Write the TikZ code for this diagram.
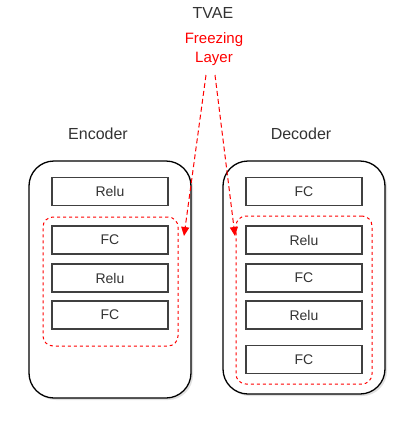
\documentclass[tikz,border=0pt]{standalone}
\usepackage{fontspec}
\setmainfont{Liberation Sans}
\usepackage{xcolor}
\usetikzlibrary{positioning,arrows.meta,shadows}
\definecolor{frzred}{HTML}{FF0000}
\definecolor{txtgray}{HTML}{333333}
\tikzset{
  layer/.style={draw=black!75, line width=1.6pt, minimum width=116pt, minimum height=28pt, inner sep=0pt, font=\fontsize{14}{16}\selectfont, text=txtgray},
  block/.style={draw=black, line width=1.3pt, rounded corners=25pt, minimum width=162pt, fill=white, inner sep=0pt,
    drop shadow={shadow xshift=2pt, shadow yshift=-2pt, opacity=0.2, fill=black!60}},
  frzbox/.style={draw=frzred, dashed, dash pattern=on 3pt off 3pt, line width=1pt, rounded corners=10pt, inner sep=0pt},
  frzarrow/.style={draw=frzred, dashed, dash pattern=on 5pt off 3pt, line width=1pt, -{Triangle[length=9pt, width=8pt]}},
  title/.style={font=\fontsize{16}{18}\selectfont, text=txtgray}
}
\begin{document}
\begin{tikzpicture}[x=1pt, y=-1pt]
    \useasboundingbox (0,0) rectangle (403,432);
    \node [title] (tvae) at (213,13) {TVAE};
    \node [font=\fontsize{15}{19}\selectfont, text=frzred, align=center] (fl) at (214,49) {Freezing\\Layer};

    % Encoder
    \node [title] (encl) at (98,134) {Encoder};
    \node [block, minimum height=237pt] (enc) at (110,279.5) {};
    \node [frzbox, minimum width=135pt, minimum height=129pt] (encf) at (110.5,281.5) {};
    \foreach \y/\txt/\nm in {191.5/Relu/e1, 240/FC/e2, 278/Relu/e3, 315/FC/e4} {
        \node [layer] (\nm) at (110,\y) {\txt};
    }

    % Decoder
    \node [title] (decl) at (301,134) {Decoder};
    \node [block, minimum height=233pt] (dec) at (304,277.5) {};
    \node [frzbox, minimum width=136pt, minimum height=168pt] (decf) at (304,300) {};
    \foreach \y/\txt/\nm in {191.5/FC/d1, 240/Relu/d2, 278/FC/d3, 315/Relu/d4, 359.5/FC/d5} {
        \node [layer] (\nm) at (304,\y) {\txt};
    }

    % freezing arrows
    \coordinate (enctip) at (184,236);
    \coordinate (dectip) at (235,236);
    \draw [frzarrow] ([xshift=-8pt, yshift=-6pt]fl.south) -- (enctip);
    \draw [frzarrow] ([xshift=1pt, yshift=-6pt]fl.south) -- (dectip);
\end{tikzpicture}
\end{document}
